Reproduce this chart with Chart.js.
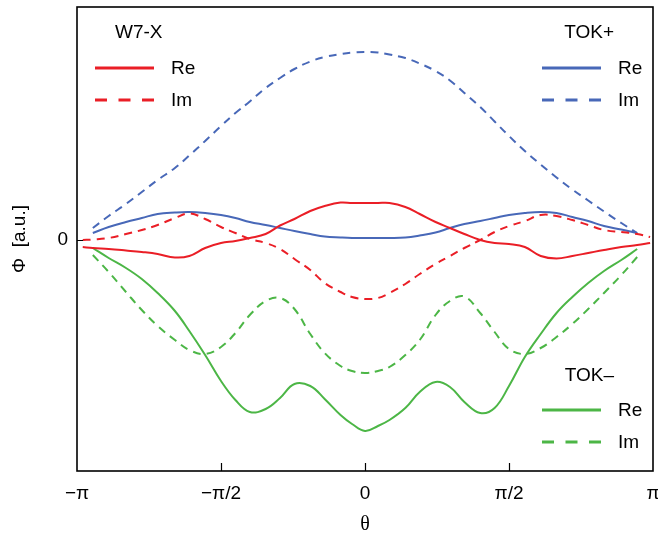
<!DOCTYPE html>
<html>
<head>
<meta charset="utf-8">
<script src="https://cdn.jsdelivr.net/npm/chart.js@4.4.0/dist/chart.umd.min.js"></script>
<style>
  html, body { margin: 0; padding: 0; background: #fff; }
</style>
</head>
<body>
<canvas id="phiChart" width="658" height="533"></canvas>
<script>
// theta in units of pi
const theta = [-0.98, -0.945, -0.89, -0.83, -0.775, -0.72, -0.66, -0.61, -0.555, -0.5,
  -0.45, -0.4, -0.345, -0.295, -0.245, -0.19, -0.14, -0.085, -0.045, 0,
  0.045, 0.085, 0.14, 0.19, 0.245, 0.295, 0.345, 0.4, 0.45, 0.5,
  0.555, 0.61, 0.665, 0.72, 0.775, 0.83, 0.89, 0.945, 0.99];

const w7xRe = [-0.07, -0.08, -0.09, -0.105, -0.12, -0.14, -0.175, -0.16, -0.08, -0.03,
  -0.01, 0.02, 0.06, 0.145, 0.21, 0.29, 0.34, 0.375, 0.37, 0.37,
  0.37, 0.37, 0.33, 0.26, 0.18, 0.12, 0.06, 0.0, -0.03, -0.04,
  -0.07, -0.16, -0.185, -0.16, -0.13, -0.10, -0.07, -0.05, -0.03];
const w7xIm = [0.0, 0.005, 0.02, 0.06, 0.10, 0.15, 0.22, 0.265, 0.21, 0.13,
  0.07, 0.01, -0.03, -0.09, -0.19, -0.30, -0.43, -0.52, -0.57, -0.59,
  -0.58, -0.53, -0.44, -0.34, -0.24, -0.16, -0.08, 0.0, 0.08, 0.14,
  0.19, 0.25, 0.24, 0.20, 0.15, 0.10, 0.08, 0.06, 0.03];

const tokPlusRe = [null, 0.07, 0.13, 0.18, 0.22, 0.26, 0.275, 0.28, 0.27, 0.25,
  0.22, 0.18, 0.15, 0.12, 0.09, 0.06, 0.035, 0.025, 0.02, 0.02,
  0.02, 0.02, 0.025, 0.045, 0.075, 0.12, 0.16, 0.19, 0.22, 0.25,
  0.27, 0.28, 0.27, 0.23, 0.19, 0.14, 0.105, 0.07, null];
const tokPlusIm = [null, 0.12, 0.24, 0.36, 0.48, 0.60, 0.72, 0.845, 0.99, 1.14,
  1.27, 1.385, 1.52, 1.62, 1.71, 1.785, 1.83, 1.86, 1.875, 1.88,
  1.875, 1.855, 1.82, 1.765, 1.69, 1.595, 1.47, 1.33, 1.185, 1.04,
  0.89, 0.755, 0.625, 0.505, 0.395, 0.285, 0.17, 0.07, null];

const tokMinusRe = [null, -0.08, -0.18, -0.28, -0.39, -0.53, -0.71, -0.91, -1.15, -1.41,
  -1.60, -1.72, -1.69, -1.58, -1.44, -1.46, -1.59, -1.75, -1.84, -1.91,
  -1.86, -1.80, -1.68, -1.52, -1.42, -1.47, -1.62, -1.73, -1.68, -1.46,
  -1.17, -0.94, -0.73, -0.57, -0.43, -0.31, -0.20, -0.09, null];
const tokMinusIm = [null, -0.15, -0.32, -0.52, -0.70, -0.86, -1.00, -1.10, -1.14, -1.07,
  -0.93, -0.75, -0.61, -0.58, -0.69, -0.94, -1.13, -1.26, -1.31, -1.33,
  -1.31, -1.27, -1.15, -1.00, -0.75, -0.61, -0.565, -0.73, -0.92, -1.09,
  -1.14, -1.08, -0.97, -0.84, -0.69, -0.53, -0.35, -0.17, null];

const xTickValues = [-1, -0.5, 0, 0.5, 1];
const xTickLabels = ['\u2212\u03c0', '\u2212\u03c0/2', '0', '\u03c0/2', '\u03c0'];
const yTickValues = [0];

const RED = 'rgb(234, 30, 38)';
const BLUE = 'rgb(72, 104, 184)';
const GREEN = 'rgb(76, 182, 70)';

function series(values) {
  return theta.map((t, i) => ({ x: t, y: values[i] }));
}

function makeSet(label, values, color, dashed) {
  return {
    label: label,
    data: series(values),
    borderColor: color,
    backgroundColor: color,
    borderWidth: 2,
    borderDash: dashed ? [8, 6] : [],
    pointRadius: 0,
    tension: 0.4,
    fill: false
  };
}

// no extra padding from tick labels, chart area is set by hand
function noPad(s) {
  s.paddingTop = 0;
  s.paddingBottom = 0;
  s.paddingLeft = 0;
  s.paddingRight = 0;
}

// legend groups, drawn by hand
const legendGroups = [
  { title: 'W7-X', titleX: 115, titleAlign: 'left', titleY: 33, lineX: 95, rows: [0, 1], rowY: [68, 100] },
  { title: 'TOK+', titleX: 614, titleAlign: 'right', titleY: 33, lineX: 542, rows: [2, 3], rowY: [68, 100] },
  { title: 'TOK\u2013', titleX: 614, titleAlign: 'right', titleY: 376, lineX: 542, rows: [4, 5], rowY: [410, 442] }
];

const groupLegend = {
  id: 'groupLegend',
  afterDraw(chart) {
    const ctx = chart.ctx;
    ctx.save();
    ctx.font = "19px 'Liberation Sans', Arial, sans-serif";
    ctx.fillStyle = '#000';
    ctx.textBaseline = 'middle';
    legendGroups.forEach(g => {
      ctx.textAlign = g.titleAlign;
      ctx.fillText(g.title, g.titleX, g.titleY);
      g.rows.forEach((di, k) => {
        const ds = chart.data.datasets[di];
        const y = g.rowY[k];
        ctx.strokeStyle = ds.borderColor;
        ctx.lineWidth = 3;
        ctx.setLineDash(ds.borderDash.length ? [12, 11.5] : []);
        ctx.beginPath();
        ctx.moveTo(g.lineX, y);
        ctx.lineTo(g.lineX + 59, y);
        ctx.stroke();
        ctx.setLineDash([]);
        ctx.textAlign = 'left';
        ctx.fillText(ds.label, g.lineX + 76, y + 1);
      });
    });
    ctx.restore();
  }
};

const frameBox = {
  id: 'frameBox',
  afterDraw(chart) {
    const { ctx, chartArea: a, scales } = chart;
    ctx.save();
    ctx.strokeStyle = '#000';
    ctx.lineWidth = 1.6;
    ctx.strokeRect(a.left, a.top, a.right - a.left, a.bottom - a.top);
    ctx.lineWidth = 1.2;
    ctx.beginPath();
    xTickValues.slice(1, -1).forEach(v => {
      const px = Math.round(scales.x.getPixelForValue(v)) + 0.5;
      ctx.moveTo(px, a.bottom);
      ctx.lineTo(px, a.bottom - 8);
    });
    yTickValues.forEach(v => {
      const py = Math.round(scales.y.getPixelForValue(v)) + 0.5;
      ctx.moveTo(a.left, py);
      ctx.lineTo(a.left + 6, py);
    });
    ctx.stroke();
    ctx.restore();
  }
};

Chart.defaults.font.family = "'Liberation Sans', Arial, sans-serif";
Chart.defaults.font.size = 19;
Chart.defaults.color = '#000';

const ctx = document.getElementById('phiChart').getContext('2d');
const phiChart = new Chart(ctx, {
  type: 'line',
  data: {
    datasets: [
      makeSet('Re', w7xRe, RED, false),
      makeSet('Im', w7xIm, RED, true),
      makeSet('Re', tokPlusRe, BLUE, false),
      makeSet('Im', tokPlusIm, BLUE, true),
      makeSet('Re', tokMinusRe, GREEN, false),
      makeSet('Im', tokMinusIm, GREEN, true)
    ]
  },
  options: {
    responsive: false,
    animation: false,
    devicePixelRatio: 1,
    layout: { autoPadding: false, padding: { top: 7, right: 5, left: 0, bottom: 0 } },
    plugins: {
      legend: { display: false },
      tooltip: { enabled: false }
    },
    scales: {
      x: {
        type: 'linear',
        min: -1,
        max: 1,
        afterBuildTicks: s => { s.ticks = xTickValues.map(v => ({ value: v })); },
        afterFit: s => { s.height = 62; noPad(s); },
        grid: { display: false, drawTicks: false },
        border: { display: false },
        ticks: {
          padding: 11,
          maxRotation: 0,
          autoSkip: false,
          callback: (v, i) => xTickLabels[i]
        },
        title: {
          display: true,
          text: '\u03b8',
          font: { size: 20, family: "'Liberation Serif', 'DejaVu Serif', serif" },
          padding: { top: 0, bottom: -4 }
        }
      },
      y: {
        type: 'linear',
        min: -2.31,
        max: 2.33,
        afterBuildTicks: s => { s.ticks = yTickValues.map(v => ({ value: v })); },
        afterFit: s => { s.width = 77; noPad(s); },
        grid: { display: false, drawTicks: false },
        border: { display: false },
        ticks: { padding: 9, callback: v => String(v) },
        title: {
          display: true,
          text: '\u03a6  [a.u.]',
          padding: { top: 8, bottom: 0 }
        }
      }
    }
  },
  plugins: [groupLegend, frameBox]
});
</script>
</body>
</html>
